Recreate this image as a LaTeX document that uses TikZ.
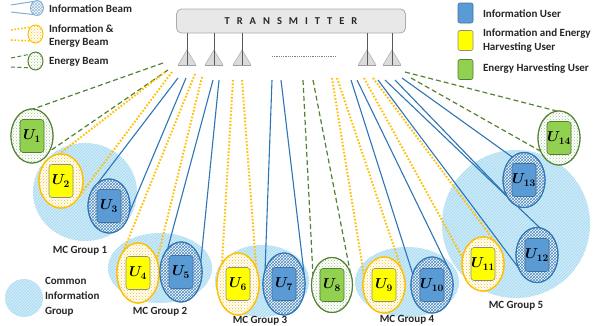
\documentclass[tikz,border=0pt]{standalone}
\usepackage{fontspec}
\setmainfont{Carlito}
\usetikzlibrary{shapes.geometric,patterns}
\definecolor{iblue}{HTML}{2E75B6}
\definecolor{iboxc}{HTML}{5B9BD5}
\definecolor{iboxd}{HTML}{41719C}
\definecolor{orng}{HTML}{FFC000}
\definecolor{ylw}{HTML}{FFFF00}
\definecolor{ylwd}{HTML}{8C8C8C}
\definecolor{grn}{HTML}{548235}
\definecolor{grnbox}{HTML}{92D050}
\definecolor{grnboxd}{HTML}{507E32}
\definecolor{grnpat}{HTML}{9DC183}
\definecolor{cloudc}{HTML}{CDEBF9}
\definecolor{cloudl}{HTML}{A3D8F0}
\begin{document}
\begin{tikzpicture}[x=1pt,y=-1pt,
  every node/.style={inner sep=0pt, outer sep=0pt},
  cloud/.style={ellipse, fill=cloudc, postaction={pattern=north east lines, pattern color=cloudl}},
  iell/.style={ellipse, draw=iblue, line width=1.1pt, preaction={fill=white}, pattern=crosshatch, pattern color=iblue!85},
  oell/.style={ellipse, draw=orng, line width=1.3pt, preaction={fill=white}, pattern=crosshatch dots, pattern color=orng},
  gell/.style={ellipse, draw=grn, line width=1.1pt, preaction={fill=white}, pattern=crosshatch dots, pattern color=grnpat},
  ubox/.style={rectangle, rounded corners=3pt, minimum width=24pt, minimum height=33pt, line width=0.6pt, font=\fontsize{14}{14}\selectfont\boldmath},
  ibox/.style={ubox, fill=iboxc, draw=iboxd},
  ybox/.style={ubox, fill=ylw, draw=ylwd},
  gbox/.style={ubox, fill=grnbox, draw=grnboxd},
  ibeam/.style={draw=iblue, line width=1.1pt},
  obeam/.style={draw=orng, line width=2pt, dash pattern=on 1.6pt off 1.8pt},
  ebeam/.style={draw=grn, line width=1.2pt, dash pattern=on 5pt off 3pt},
  lbl/.style={font=\fontsize{11}{13.5}\selectfont\bfseries, text=black!85, align=left},
  grp/.style={font=\fontsize{11}{12}\selectfont\bfseries, text=black!85},
  lbox/.style={rectangle, rounded corners=2pt, minimum width=15pt, minimum height=20pt, line width=0.6pt},
]
\useasboundingbox (0,0) rectangle (609,325);

% ---------- MC group clouds ----------
\node[cloud, minimum width=104pt, minimum height=98pt] (g1) at (85,192) {};
\node[cloud, minimum width=104pt, minimum height=70pt] (g2) at (160,268) {};
\node[cloud, minimum width=94pt, minimum height=72pt] (g3) at (262,281) {};
\node[cloud, minimum width=104pt, minimum height=70pt] (g4) at (407,282) {};
\node[cloud, minimum width=148pt, minimum height=148pt] (g5) at (516,224) {};
\node[grp] (gl1) at (80,251) {MC Group 1};
\node[grp] (gl2) at (160,312) {MC Group 2};
\node[grp] (gl3) at (260,320.5) {MC Group 3};
\node[grp] (gl4) at (407,320) {MC Group 4};
\node[grp] (gl5) at (516,306) {MC Group 5};

% ---------- transmitter ----------
\node[rectangle, rounded corners=5pt, minimum width=229pt, minimum height=24pt, fill=gray!18, draw=gray!65, line width=0.8pt, font=\fontsize{10.5}{12}\selectfont\bfseries, text=black!85] (tx) at (291,21)
 {T\kern7pt R\kern7pt A\kern7pt N\kern7pt S\kern7pt M\kern7pt I\kern7pt T\kern7pt T\kern7pt E\kern7pt R};
\foreach \i/\ax in {1/187,2/214,3/242,4/367,5/392}{
  \coordinate (a\i) at (\ax,65);
  \fill[gray!28] ({\ax-9},65) -- (\ax,50) -- ({\ax+9},65) -- cycle;
  \draw[gray!60, line width=0.6pt] ({\ax-9},65) -- (\ax,50) -- ({\ax+9},65);
  \draw[gray!75, line width=1pt] ({\ax-9},65) -- ({\ax+9},65);
  \draw[black!65, line width=0.7pt] (a\i |- tx.south) -- (a\i);
}
\coordinate (d1) at (272,56); \coordinate (d2) at (336,56);
\draw[gray, line width=0.6pt, dash pattern=on 1pt off 0.8pt] (d1) -- (d2);

% ---------- users (nodes first, drawn later on top) ----------
\path
 (32,136)  node[gell, minimum width=42pt, minimum height=54pt] (u1) {}
 (61,181)  node[oell, minimum width=44pt, minimum height=54pt] (u2) {}
 (109,206) node[iell, minimum width=42pt, minimum height=54pt] (u3) {}
 (138,273) node[oell, minimum width=42pt, minimum height=60pt] (u4) {}
 (181,272) node[iell, minimum width=42pt, minimum height=60pt] (u5) {}
 (238,284) node[oell, minimum width=42pt, minimum height=62pt] (u6) {}
 (284,284) node[iell, minimum width=42pt, minimum height=62pt] (u7) {}
 (332,285) node[gell, minimum width=41pt, minimum height=55pt] (u8) {}
 (384,285) node[oell, minimum width=42pt, minimum height=56pt] (u9) {}
 (432,285) node[iell, minimum width=42pt, minimum height=56pt] (u10) {}
 (483,264) node[oell, minimum width=42pt, minimum height=54pt] (u11) {}
 (537,255) node[iell, minimum width=42pt, minimum height=55pt] (u12) {}
 (524,180) node[iell, minimum width=42pt, minimum height=55pt] (u13) {}
 (559,138) node[gell, minimum width=42pt, minimum height=54pt] (u14) {};

% ---------- beams ----------
\coordinate (s1a) at (163,63);  \coordinate (s1b) at (168,70);
\coordinate (s2a) at (165,72);  \coordinate (s2b) at (172,72);
\coordinate (s3a) at (178,78);  \coordinate (s3b) at (186,78);
\coordinate (s4a) at (195,74);  \coordinate (s4b) at (202,77);
\coordinate (s5a) at (213,80);  \coordinate (s5b) at (219,80);
\coordinate (s6a) at (233,80);  \coordinate (s6b) at (242,80);
\coordinate (s7a) at (272,80);  \coordinate (s7b) at (281,80);
\coordinate (s8a) at (303,80);  \coordinate (s8b) at (313,80);
\coordinate (s9a) at (332,78);  \coordinate (s9b) at (337,78);
\coordinate (s10a) at (351,80); \coordinate (s10b) at (357,80);
\coordinate (s11a) at (364,78); \coordinate (s11b) at (373,78);
\coordinate (s12a) at (378,80); \coordinate (s12b) at (385,80);
\coordinate (s13a) at (395,80); \coordinate (s13b) at (402,78);
\coordinate (s14a) at (411,78); \coordinate (s14b) at (405,72);

\draw[ebeam] (s1a) -- (u1.88) (s1b) -- (u1.-42);
\draw[obeam] (s2a) -- (u2.94) (s2b) -- (u2.-40);
\draw[ibeam] (s3a) -- (u3.117) (s3b) -- (u3.-18);
\draw[obeam] (s4a) -- (u4.125) (s4b) -- (u4.34);
\draw[ibeam] (s5a) -- (u5.120) (s5b) -- (u5.27);
\draw[obeam] (s6a) -- (u6.129) (s6b) -- (u6.40);
\draw[ibeam] (s7a) -- (u7.145) (s7b) -- (u7.18);
\draw[ebeam] (s8a) -- (u8.152) (s8b) -- (u8.34);
\draw[obeam] (s9a) -- (u9.156) (s9b) -- (u9.40);
\draw[ibeam] (s10a) -- (u10.150) (s10b) -- (u10.51);
\draw[obeam] (s11a) -- (u11.163) (s11b) -- (u11.62);
\draw[ibeam] (s12a) -- (u12.214) (s12b) -- (u12.84);
\draw[ibeam] (s13a) -- (u13.223) (s13b) -- (u13.117);
\draw[ebeam] (s14a) -- (u14.216) (s14b) -- (u14.94);

% ---------- users redrawn on top ----------
\path
 (32,136)  node[gell, minimum width=42pt, minimum height=54pt] {}
 (61,181)  node[oell, minimum width=44pt, minimum height=54pt] {}
 (109,206) node[iell, minimum width=42pt, minimum height=54pt] {}
 (138,273) node[oell, minimum width=42pt, minimum height=60pt] {}
 (181,272) node[iell, minimum width=42pt, minimum height=60pt] {}
 (238,284) node[oell, minimum width=42pt, minimum height=62pt] {}
 (284,284) node[iell, minimum width=42pt, minimum height=62pt] {}
 (332,285) node[gell, minimum width=41pt, minimum height=55pt] {}
 (384,285) node[oell, minimum width=42pt, minimum height=56pt] {}
 (432,285) node[iell, minimum width=42pt, minimum height=56pt] {}
 (483,264) node[oell, minimum width=42pt, minimum height=54pt] {}
 (537,255) node[iell, minimum width=42pt, minimum height=55pt] {}
 (524,180) node[iell, minimum width=42pt, minimum height=55pt] {}
 (559,138) node[gell, minimum width=42pt, minimum height=54pt] {};

\node[gbox] (r1) at (u1) {$U_{1}$};
\node[ybox] (r2) at (u2) {$U_{2}$};
\node[ibox] (r3) at (u3) {$U_{3}$};
\node[ybox] (r4) at (u4) {$U_{4}$};
\node[ibox] (r5) at (u5) {$U_{5}$};
\node[ybox] (r6) at (u6) {$U_{6}$};
\node[ibox] (r7) at (u7) {$U_{7}$};
\node[gbox] (r8) at (u8) {$U_{8}$};
\node[ybox] (r9) at (u9) {$U_{9}$};
\node[ibox] (r10) at (u10) {$U_{10}$};
\node[ybox] (r11) at (u11) {$U_{11}$};
\node[ibox] (r12) at (u12) {$U_{12}$};
\node[ibox] (r13) at (u13) {$U_{13}$};
\node[gbox] (r14) at (u14) {$U_{14}$};

% ---------- legend left ----------
\node[iell, draw=iblue!60, pattern color=iblue!50, line width=0.8pt, minimum width=13pt, minimum height=15pt] (li1) at (37,8) {};
\coordinate (l1a) at (11,5); \coordinate (l1b) at (11,12);
\draw[iblue!60, line width=1pt] (l1a) -- (li1.115) (l1b) -- (li1.-115);
\node[oell, line width=1pt, minimum width=15pt, minimum height=18pt] (li2) at (35.5,34) {};
\coordinate (l2a) at (11,30); \coordinate (l2b) at (11,40);
\draw[obeam, line width=1.6pt] (l2a) -- (li2.125) (l2b) -- (li2.-125);
\node[gell, line width=1pt, minimum width=15pt, minimum height=18pt] (li3) at (35.5,61) {};
\coordinate (l3a) at (11,58); \coordinate (l3b) at (11,67);
\draw[ebeam, line width=1pt, dash pattern=on 4pt off 2.5pt] (l3a) -- (li3.125) (l3b) -- (li3.-125);
\node[lbl, anchor=west] (t1) at (49,9) {Information Beam};
\node[lbl, anchor=west] (t2) at (49,36) {Information \&\\Energy Beam};
\node[lbl, anchor=west] (t3) at (49,62) {Energy Beam};

% ---------- legend right ----------
\node[lbox, fill=iboxc, draw=iboxd] (lb1) at (465.5,13) {};
\node[lbox, fill=ylw, draw=ylwd] (lb2) at (465.5,40.5) {};
\node[lbox, fill=grnbox, draw=grnboxd] (lb3) at (465.5,69.5) {};
\node[lbl, anchor=west] (t4) at (483,14) {Information User};
\node[lbl, anchor=west] (t5) at (483,40.5) {Information and Energy\\Harvesting User};
\node[lbl, anchor=west] (t6) at (483,68.5) {Energy Harvesting User};

% ---------- legend bottom-left ----------
\node[cloud, minimum width=38pt, minimum height=38pt] (lc) at (24,298) {};
\node[lbl, anchor=west, font=\fontsize{11}{15}\selectfont\bfseries] (t7) at (45,297) {Common\\Information\\Group};
\end{tikzpicture}
\end{document}
